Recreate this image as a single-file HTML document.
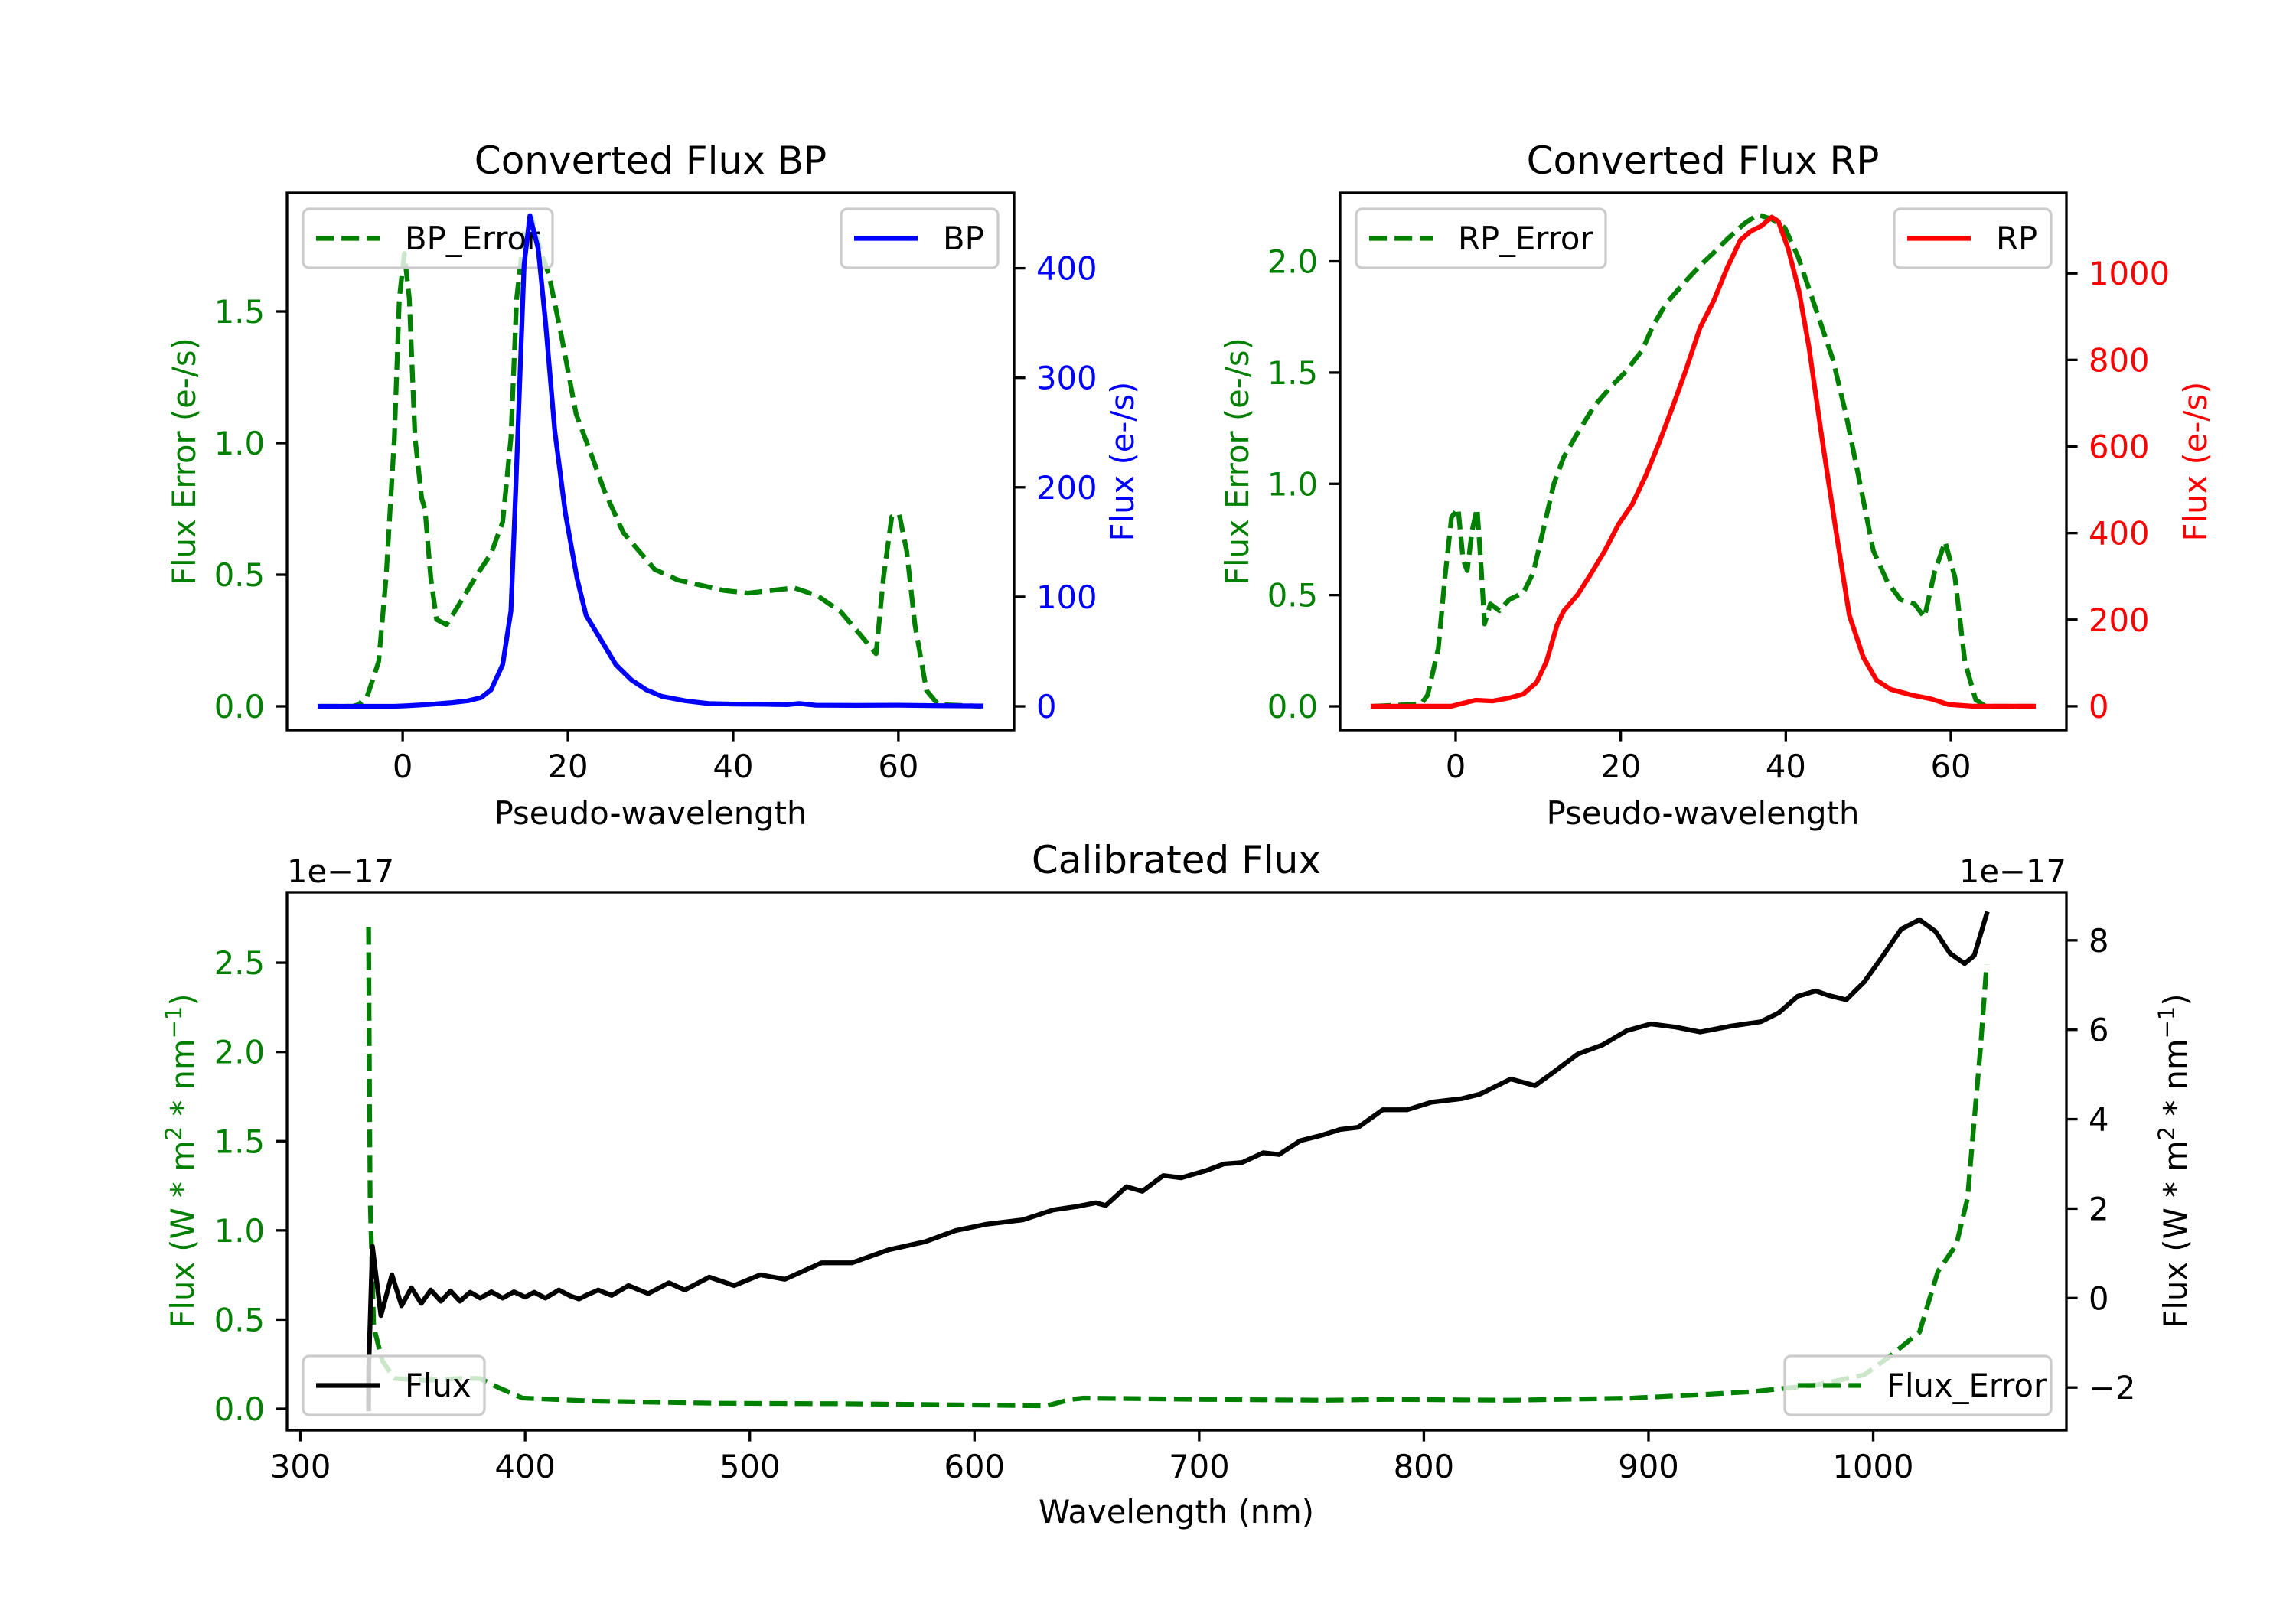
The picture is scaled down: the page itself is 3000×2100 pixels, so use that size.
<!DOCTYPE html>
<html><head><meta charset="utf-8">
<style>
html,body{margin:0;padding:0;background:#fff;}
svg{display:block;}
text{font-family:"DejaVu Sans","Liberation Sans",sans-serif;}
</style></head>
<body>
<svg id="fig" xmlns="http://www.w3.org/2000/svg" width="3000" height="2100" viewBox="0 0 3000 2100"></svg>
<script>
// ---------- data ----------
const bpX = [-10,-1,0.4,3.2,6,7.9,9.5,10.7,12.1,13.1,13.7,14.7,15.4,16.4,17.3,18.4,19.7,21.1,22.2,23.9,25.8,27.7,29.5,31.4,34.2,37,40,44,46.5,48,50,55,60,65,70];
const bpFlux = [0,0,0.4,1.7,3.4,5,8,15,38,87,200,403,448,418,350,252,176,117,83,62,38,24,15,9,5,2.5,2,1.8,1.5,2.5,1,0.8,1,0.5,0.3];
const bpErrX = [-10,-6,-5.3,-4.3,-2.9,-2,-1,-0.4,0.2,0.8,1.5,2.3,2.7,3.4,4.1,5.3,6.5,8.8,10.7,12.1,13.1,13.8,14.7,15.6,16.8,17.7,19.2,21,22.9,24.4,26.7,28.6,30.5,33.3,36.1,38.9,41.8,44.6,47.4,50.2,53,54.9,57.3,58.2,59.2,60.1,61,62,63.4,64.8,70];
const bpErr = [0,0,0.007,0.037,0.17,0.49,1.02,1.55,1.72,1.55,1.02,0.79,0.75,0.49,0.33,0.31,0.37,0.49,0.58,0.70,1.02,1.55,1.80,1.86,1.72,1.64,1.41,1.11,0.95,0.82,0.66,0.59,0.52,0.48,0.46,0.44,0.43,0.44,0.45,0.42,0.36,0.29,0.20,0.49,0.72,0.73,0.59,0.31,0.06,0.007,0];
const rpX = [-10,-0.5,0.3,2.4,4.5,6.5,8.2,9.8,11,12.3,13.1,14.8,16.4,18.1,19.7,21.4,23,24.6,26.3,27.9,29.6,31.3,32.9,34.5,35.8,37,38.3,39.1,40.3,41.6,42.8,44.4,46.1,47.7,49.4,51,52.7,55.2,57.6,59.7,62.6,70];
const rpFlux = [0,0,4,14,12,19,28,55,103,188,220,258,306,360,419,467,531,606,692,777,874,938,1013,1077,1098,1109,1130,1120,1056,959,831,617,403,210,113,60,39,26,17,4,0,0];
const rpErrX = [-10,-4.2,-3.4,-2.1,-1.3,-0.5,0.3,0.9,1.4,2,2.6,3.1,3.5,4.2,5.3,6.5,8.2,9.4,10.6,11.9,13.1,14.8,16.8,18.9,20.5,22.6,23.9,25.5,27.6,29.6,31.3,32.9,35,36.6,38.3,39.9,41.5,43.6,45.7,47.3,49,50.6,52.3,53.9,55.6,56.8,58,59.3,60.5,61.7,63,64.2,70];
const rpErr = [0,0.01,0.05,0.26,0.58,0.85,0.89,0.66,0.61,0.79,0.89,0.62,0.37,0.46,0.43,0.48,0.51,0.60,0.79,1.0,1.12,1.23,1.35,1.44,1.50,1.60,1.71,1.81,1.90,1.98,2.04,2.10,2.17,2.21,2.19,2.15,2.02,1.79,1.56,1.31,1.0,0.70,0.56,0.48,0.46,0.40,0.60,0.74,0.58,0.20,0.03,0,0];
const wlX = [330.3,330.4,332,335.8,340.7,345,349.4,353.8,358,362.5,366.8,371,375.5,380,385,390,395,400,404,409,415,420,424,428,432.5,438.5,446,454.8,464,471,482,493,504.7,515.6,532,545.5,561.8,578,591.6,605,621.5,635,645.9,654,658.4,667.6,674.7,684,692,703,711,719,728.5,735.5,745,754.5,762.7,770.8,781.7,792.5,803.4,817,825,838.7,849.5,857.7,868.6,879.5,890.3,901,912,923,936.5,950,958,966.4,974.5,980,988,996,1004.4,1012.5,1020.6,1027.7,1034.2,1040.7,1045,1050.5];
const wlFlux = [-2.48,-1.5,1.16,-0.39,0.52,-0.17,0.23,-0.12,0.18,-0.07,0.16,-0.07,0.13,0.0,0.14,0.0,0.14,0.02,0.13,0.0,0.18,0.05,-0.02,0.08,0.18,0.06,0.28,0.1,0.34,0.18,0.47,0.28,0.52,0.42,0.79,0.79,1.08,1.26,1.51,1.65,1.75,1.97,2.05,2.13,2.07,2.49,2.39,2.74,2.69,2.85,3.0,3.03,3.25,3.21,3.52,3.64,3.77,3.82,4.21,4.21,4.38,4.46,4.56,4.9,4.75,5.05,5.46,5.66,5.98,6.13,6.06,5.95,6.08,6.18,6.38,6.75,6.87,6.77,6.67,7.07,7.66,8.25,8.46,8.2,7.71,7.48,7.66,8.59];
const errWl = [330.3,331,332.6,336.4,341.8,355.4,371.7,379.8,388,398.8,431,485.7,540,594,632,643,648.6,703,757,784,838.7,893,920,947,974.5,996,1007,1020.6,1028.8,1037,1042,1047.8,1050.5];
const wlErr = [2.7,1.18,0.46,0.27,0.17,0.16,0.17,0.17,0.12,0.06,0.043,0.031,0.029,0.022,0.017,0.053,0.06,0.053,0.048,0.053,0.048,0.06,0.077,0.097,0.133,0.19,0.29,0.43,0.77,0.92,1.18,2.03,2.49];
const pxTicks = [0,20,40,60];
const bpErrTicks = [0,0.5,1.0,1.5];
const bpFluxTicks = [0,100,200,300,400];
const rpErrTicks = [0,0.5,1.0,1.5,2.0];
const rpFluxTicks = [0,200,400,600,800,1000];
const wlTicks = [300,400,500,600,700,800,900,1000];
const calErrTicks = [0,0.5,1.0,1.5,2.0,2.5];
const calFluxTicks = [-2,0,2,4,6,8];

// ---------- drawing ----------
const NS="http://www.w3.org/2000/svg";
const svg=document.getElementById('fig');
const FS=41.7;
function mk(tag,attrs,parent){const e=document.createElementNS(NS,tag);for(const k in attrs)e.setAttribute(k,attrs[k]);(parent||svg).appendChild(e);return e;}
function txt(s,x,y,opt,parent){const t=mk('text',Object.assign({x:x,y:y,'font-size':FS,fill:'#000'},opt||{}),parent);t.textContent=s;return t;}
function scale(d0,d1,p0,p1){return v=>p0+(v-d0)/(d1-d0)*(p1-p0);}
function fmt1(v){return v.toFixed(1);}
function fmtI(v){return (v<0?'\u2212':'')+Math.abs(v);}

function panel(cfg){
  const g=mk('g',{});
  
  
  const sx=scale(cfg.xlim[0],cfg.xlim[1],cfg.x0,cfg.x1);
  const syL=scale(cfg.ylL[0],cfg.ylL[1],cfg.y1,cfg.y0);
  const syR=scale(cfg.ylR[0],cfg.ylR[1],cfg.y1,cfg.y0);
  const cid='clip-'+cfg.name;
  const cp=mk('clipPath',{id:cid},g);
  mk('rect',{x:cfg.x0,y:cfg.y0,width:cfg.x1-cfg.x0,height:cfg.y1-cfg.y0},cp);
  function path(xs,ys,sy,color,dashed,nm){
    let d='';xs.forEach((x,i)=>{d+=(i?'L':'M')+sx(x).toFixed(1)+','+sy(ys[i]).toFixed(1);});
    const p=mk('path',{d:d,fill:'none',stroke:color,'stroke-width':6.25,'stroke-linejoin':'round','stroke-linecap':dashed?'butt':'square','clip-path':'url(#'+cid+')'},g);
    if(dashed)p.setAttribute('stroke-dasharray','23.1,10');
    
    
  }
  function legend(x,y,w,label,color,dashed,nm){
    const lg=mk('g',{},g);
    
    
    mk('rect',{x:x,y:y,width:w,height:77,rx:8,fill:'#fff','fill-opacity':0.8,stroke:'#ccc','stroke-width':3.3},lg);
    const l=mk('line',{x1:x+17,x2:x+100,y1:y+38.5,y2:y+38.5,stroke:color,'stroke-width':6.25},lg);
    if(dashed)l.setAttribute('stroke-dasharray','23.1,10');
    txt(label,x+133,y+53,{},lg);
  }
  path(cfg.errX,cfg.errY,syL,'#008000',true,cfg.errName);
  legend(cfg.errLeg[0],cfg.errLeg[1],cfg.errLeg[2],cfg.errLabel,'#008000',true,cfg.errName+'-legend');
  path(cfg.fX,cfg.fY,syR,cfg.fColor,false,cfg.fName);
  legend(cfg.fLeg[0],cfg.fLeg[1],cfg.fLeg[2],cfg.fLabel,cfg.fColor,false,cfg.fName+'-legend');
  const fr=mk('rect',{x:cfg.x0,y:cfg.y0,width:cfg.x1-cfg.x0,height:cfg.y1-cfg.y0,fill:'none',stroke:'#000','stroke-width':3.33},g);
  
  
  cfg.xt.forEach(v=>{const x=sx(v);mk('line',{x1:x,x2:x,y1:cfg.y1,y2:cfg.y1+14.6,stroke:'#000','stroke-width':3.33},g);
    const t=txt(String(v),x,cfg.y1+62,{'text-anchor':'middle'},g);
    });
  cfg.ytL.forEach(v=>{const y=syL(v);mk('line',{x1:cfg.x0-14.6,x2:cfg.x0,y1:y,y2:y,stroke:'#000','stroke-width':3.33},g);
    const t=txt(fmt1(v),cfg.x0-29,y+15,{'text-anchor':'end',fill:'#008000'},g);
    });
  cfg.ytR.forEach(v=>{const y=syR(v);mk('line',{x1:cfg.x1,x2:cfg.x1+14.6,y1:y,y2:y,stroke:'#000','stroke-width':3.33},g);
    const t=txt(fmtI(v),cfg.x1+29,y+15,{fill:cfg.rTickColor},g);
    });
  return g;
}

panel({name:'bp-panel',x0:375,x1:1325,y0:252,y1:954,xlim:[-14,74],ylL:[-0.0901,1.9506],ylR:[-21.66,468.9],
  errX:bpErrX,errY:bpErr,errName:'bp-error-line',errLabel:'BP_Error',errLeg:[396,273,326],
  fX:bpX,fY:bpFlux,fColor:'#0000ff',fName:'bp-flux-line',fLabel:'BP',fLeg:[1099,273,205],
  xt:pxTicks,ytL:bpErrTicks,ytR:bpFluxTicks,rTickColor:'#0000ff'});
panel({name:'rp-panel',x0:1751,x1:2700,y0:252,y1:954,xlim:[-14,74],ylL:[-0.1066,2.308],ylR:[-55,1186],
  errX:rpErrX,errY:rpErr,errName:'rp-error-line',errLabel:'RP_Error',errLeg:[1772,273,326],
  fX:rpX,fY:rpFlux,fColor:'#ff0000',fName:'rp-flux-line',fLabel:'RP',fLeg:[2475,273,205],
  xt:pxTicks,ytL:rpErrTicks,ytR:rpFluxTicks,rTickColor:'#ff0000'});
panel({name:'calibrated-panel',x0:375,x1:2700,y0:1166,y1:1869,xlim:[294,1086],ylL:[-0.1199,2.8948],ylR:[-2.955,9.075],
  errX:errWl,errY:wlErr,errName:'flux-error-line',errLabel:'Flux_Error',errLeg:[2332,1772,348],
  fX:wlX,fY:wlFlux,fColor:'#000000',fName:'calibrated-flux-line',fLabel:'Flux',fLeg:[396,1772,237],
  xt:wlTicks,ytL:calErrTicks,ytR:calFluxTicks,rTickColor:'#000'});

function lab(s,x,y,opt,name){const t=txt(s,x,y,opt);return t;}
lab('Converted Flux BP',850,227,{'text-anchor':'middle','font-size':50},'bp-title');
lab('Converted Flux RP',2225,227,{'text-anchor':'middle','font-size':50},'rp-title');
lab('Calibrated Flux',1537,1141,{'text-anchor':'middle','font-size':50},'calibrated-title');
lab('Pseudo-wavelength',850,1077,{'text-anchor':'middle'},'bp-x-axis-title');
lab('Pseudo-wavelength',2225,1077,{'text-anchor':'middle'},'rp-x-axis-title');
lab('Wavelength (nm)',1537,1990,{'text-anchor':'middle'},'calibrated-x-axis-title');
lab('Flux Error (e-/s)',0,0,{'text-anchor':'middle',fill:'#008000',transform:'translate(255,603) rotate(-90)'},'bp-left-y-axis-title');
lab('Flux (e-/s)',0,0,{'text-anchor':'middle',fill:'#0000ff',transform:'translate(1481,603) rotate(-90)'},'bp-right-y-axis-title');
lab('Flux Error (e-/s)',0,0,{'text-anchor':'middle',fill:'#008000',transform:'translate(1631,603) rotate(-90)'},'rp-left-y-axis-title');
lab('Flux (e-/s)',0,0,{'text-anchor':'middle',fill:'#ff0000',transform:'translate(2883,603) rotate(-90)'},'rp-right-y-axis-title');
(function(){
  const t1=lab('',0,0,{'text-anchor':'middle',fill:'#008000',transform:'translate(253,1517) rotate(-90)'},'calibrated-left-y-axis-title');
  t1.innerHTML='Flux (W * m<tspan dy="-16" font-size="29">2</tspan><tspan dy="16"> * nm</tspan><tspan dy="-16" font-size="29">\u22121</tspan><tspan dy="16">)</tspan>';
  const t2=lab('',0,0,{'text-anchor':'middle',fill:'#000',transform:'translate(2857,1517) rotate(-90)'},'calibrated-right-y-axis-title');
  t2.innerHTML='Flux (W * m<tspan dy="-16" font-size="29">2</tspan><tspan dy="16"> * nm</tspan><tspan dy="-16" font-size="29">\u22121</tspan><tspan dy="16">)</tspan>';
})();
lab('1e\u221217',375,1153,{},'left-offset-text');
lab('1e\u221217',2700,1153,{'text-anchor':'end'},'right-offset-text');
</script>
</body></html>
